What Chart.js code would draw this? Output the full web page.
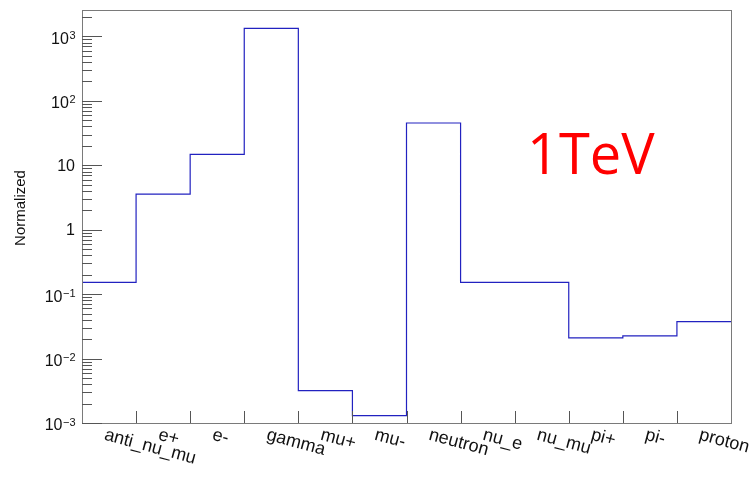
<!DOCTYPE html>
<html>
<head>
<meta charset="utf-8">
<script src="https://cdn.jsdelivr.net/npm/chart.js@4.4.1/dist/chart.umd.min.js"></script>
<style>
  html, body { margin: 0; padding: 0; background: #fff; }
  #wrap { width: 756px; height: 479px; }
</style>
</head>
<body>
<div id="wrap"><canvas id="myChart" width="756" height="479"></canvas></div>
<script>
// histogram bins (particle species) and normalized counts
const categories = ['anti_nu_mu', 'e+', 'e-', 'gamma', 'mu+', 'mu-', 'neutron', 'nu_e', 'nu_mu', 'pi+', 'pi-', 'proton'];
const counts = [0.152, 3.57, 14.8, 1330, 0.00317, 0.0013, 45.3, 0.152, 0.152, 0.0209, 0.0225, 0.0375];

// y axis tick labels (log scale)
const yTickValues = [0.001, 0.01, 0.1, 1, 10, 100, 1000];
const yTickLabels = ['10^-3', '10^-2', '10^-1', '1', '10', '10^2', '10^3'];

const yMin = 0.001;
const yMax = 2570;
const font = '"Liberation Sans", Arial, sans-serif';

// step points on bin edges, last bin closed at the right edge
const points = counts.map((v, i) => ({ x: i, y: v }));
points.push({ x: categories.length, y: counts[counts.length - 1] });

const rootAxes = {
    id: 'rootAxes',
    afterDraw(chart) {
        const ctx = chart.ctx;
        const a = chart.chartArea;
        const xs = chart.scales.x;
        const ys = chart.scales.y;
        ctx.save();

        // frame
        ctx.strokeStyle = '#7a7a7a';
        ctx.lineWidth = 1;
        ctx.strokeRect(Math.round(a.left) + 0.5, Math.round(a.top) + 0.5,
            Math.round(a.right - a.left), Math.round(a.bottom - a.top));

        // y ticks, major and minor, pointing inward
        ctx.strokeStyle = '#555';
        ctx.beginPath();
        for (let d = -3; d <= 3; d++) {
            for (let k = 1; k <= 9; k++) {
                const v = k * Math.pow(10, d);
                if (v < yMin || v > yMax) continue;
                const y = Math.round(ys.getPixelForValue(v)) + 0.5;
                const len = k === 1 ? 20 : 10;
                ctx.moveTo(a.left, y);
                ctx.lineTo(a.left + len, y);
            }
        }
        // x ticks at bin edges
        for (let i = 1; i < categories.length; i++) {
            const x = Math.round(xs.getPixelForValue(i)) + 0.5;
            ctx.moveTo(x, a.bottom);
            ctx.lineTo(x, a.bottom - 12);
        }
        ctx.stroke();

        // y tick labels with superscripts
        ctx.fillStyle = '#111';
        yTickValues.forEach((v, i) => {
            const y = ys.getPixelForValue(v);
            const parts = yTickLabels[i].split('^');
            const rightX = 75;
            if (parts.length === 1) {
                ctx.font = '16px ' + font;
                ctx.textAlign = 'right';
                ctx.textBaseline = 'middle';
                ctx.fillText(parts[0], rightX, y + 1);
            } else {
                ctx.font = '16px ' + font;
                const wb = ctx.measureText(parts[0]).width;
                const sup = parts[1].replace('-', '\u2212');
                ctx.font = '11px ' + font;
                const ws = ctx.measureText(sup).width;
                const x0 = rightX - wb - ws;
                ctx.textAlign = 'left';
                ctx.font = '16px ' + font;
                ctx.textBaseline = 'middle';
                ctx.fillText(parts[0], x0, y + 3);
                ctx.font = '11px ' + font;
                ctx.textBaseline = 'top';
                ctx.fillText(sup, x0 + wb + 0.5, y - 6);
            }
        });

        // x category labels, rotated clockwise
        ctx.font = '18px ' + font;
        ctx.textAlign = 'left';
        ctx.textBaseline = 'top';
        categories.forEach((c, i) => {
            const x = xs.getPixelForValue(i + 0.5) - 2;
            ctx.save();
            ctx.translate(x, a.bottom + 3);
            ctx.rotate(15 * Math.PI / 180);
            ctx.fillText(c, 0, 0);
            ctx.restore();
        });

        // y axis title
        ctx.save();
        ctx.font = '15px ' + font;
        ctx.textAlign = 'center';
        ctx.textBaseline = 'middle';
        ctx.translate(21, 208);
        ctx.rotate(-Math.PI / 2);
        ctx.fillText('Normalized', 0, 0);
        ctx.restore();

        // energy annotation
        ctx.fillStyle = '#ff0000';
        ctx.font = '56px "Open Sans", sans-serif';
        ctx.textAlign = 'left';
        ctx.textBaseline = 'alphabetic';
        ctx.fillText('1TeV', 527, 174);

        ctx.restore();
    }
};

const config = {
    type: 'line',
    data: {
        datasets: [{
            label: 'Normalized',
            data: points,
            stepped: true,
            borderColor: '#2222c0',
            borderWidth: 1.2,
            pointRadius: 0,
            fill: false,
            clip: false
        }]
    },
    options: {
        responsive: false,
        animation: false,
        layout: { padding: { left: 82, right: 25, top: 10, bottom: 56 } },
        plugins: {
            legend: { display: false },
            tooltip: { enabled: false }
        },
        scales: {
            x: { type: 'linear', min: 0, max: categories.length, display: false },
            y: { type: 'logarithmic', min: yMin, max: yMax, display: false }
        }
    },
    plugins: [rootAxes]
};

const myChart = new Chart(document.getElementById('myChart'), config);
</script>
</body>
</html>
